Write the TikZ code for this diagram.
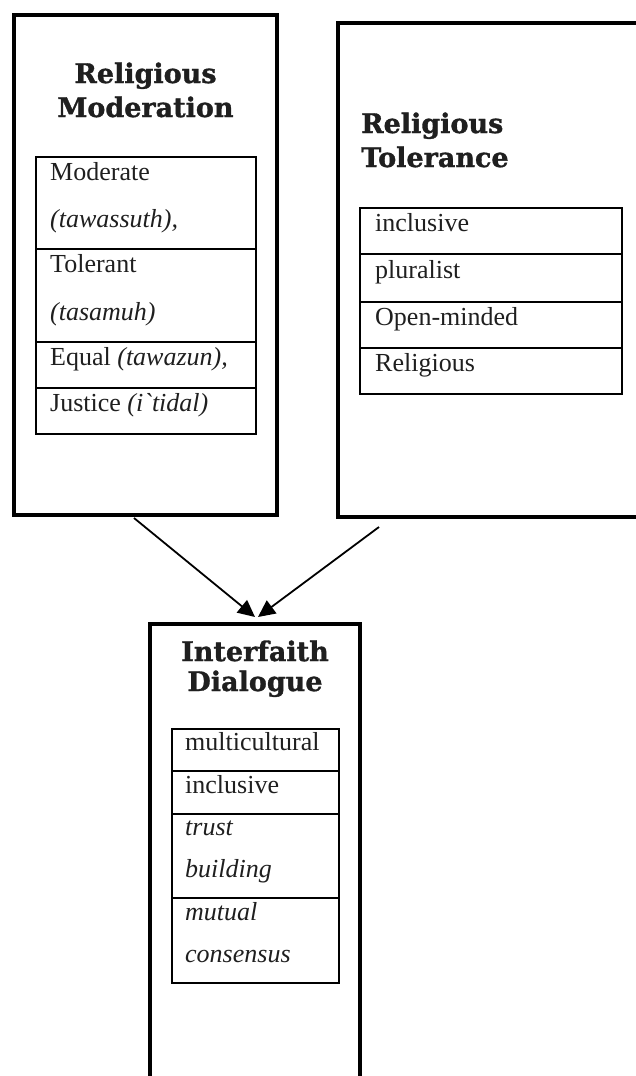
\documentclass[tikz,border=0pt]{standalone}
\usepackage{fontspec}
\setmainfont{Liberation Serif}
\newfontfamily\headfont{DejaVu Serif}[BoldFeatures={FakeBold=1.2}]
\newfontface\gravefont{Liberation Serif Italic}
\usetikzlibrary{arrows.meta}
\begin{document}
\begin{tikzpicture}[x=1pt,y=-1pt,
  outerbox/.style={draw=black, line width=4.5pt, minimum width=#1, inner sep=0pt},
  cell/.style={draw=black, line width=1.6pt, inner sep=0pt, anchor=north west},
  body/.style={font=\fontsize{26}{30}\selectfont, anchor=base west, inner sep=0pt, text=black!88},
  head/.style={font=\headfont\bfseries\fontsize{27}{30}\selectfont, anchor=base, inner sep=0pt, text=black!88},
  headl/.style={head, anchor=base west},
  arr/.style={line width=1.8pt, -{Triangle[length=17pt,width=16pt]}}
]
\useasboundingbox (0,0) rectangle (635,1076);
% outer boxes
\node[outerbox=263pt, minimum height=500pt] (rm) at (145.5,265) {};
\node[outerbox=312pt, minimum height=494pt] (rt) at (494,270) {};
\node[outerbox=210pt, minimum height=500pt] (id) at (255,874) {};

% Religious Moderation
\node[head] (rmh1) at (145.5,83) {Religious};
\node[head] (rmh2) at (145.5,117) {Moderation};
\node[cell, minimum width=220pt, minimum height=92pt] (rm1) at (35,156) {};
\node[cell, minimum width=220pt, minimum height=93pt] (rm2) at (35,248) {};
\node[cell, minimum width=220pt, minimum height=46pt] (rm3) at (35,341) {};
\node[cell, minimum width=220pt, minimum height=46pt] (rm4) at (35,387) {};
\node[body] (t11) at (50,180) {Moderate};
\node[body] (t12) at (50,227) {\itshape (tawassuth),};
\node[body] (t21) at (50,272) {Tolerant};
\node[body] (t22) at (50,320) {\itshape (tasamuh)};
\node[body] (t3) at (50,365) {Equal \textit{(tawazun),}};
\node[body] (t4) at (50,411) {Justice \textit{(i{\gravefont `}tidal)}};

% Religious Tolerance
\node[headl] (rth1) at (361,133) {Religious};
\node[headl] (rth2) at (361,167) {Tolerance};
\node[cell, minimum width=262pt, minimum height=46pt] (rt1) at (359,207) {};
\node[cell, minimum width=262pt, minimum height=48pt] (rt2) at (359,253) {};
\node[cell, minimum width=262pt, minimum height=46pt] (rt3) at (359,301) {};
\node[cell, minimum width=262pt, minimum height=46pt] (rt4) at (359,347) {};
\node[body] (u1) at (375,231) {inclusive};
\node[body] (u2) at (375,278) {pluralist};
\node[body] (u3) at (375,325) {Open-minded};
\node[body] (u4) at (375,371) {Religious};

% Interfaith Dialogue
\node[head] (idh1) at (255,661) {Interfaith};
\node[head] (idh2) at (255,691) {Dialogue};
\node[cell, minimum width=167pt, minimum height=42pt] (id1) at (171,728) {};
\node[cell, minimum width=167pt, minimum height=43pt] (id2) at (171,770) {};
\node[cell, minimum width=167pt, minimum height=84pt] (id3) at (171,813) {};
\node[cell, minimum width=167pt, minimum height=85pt] (id4) at (171,897) {};
\node[body] (v1) at (185,750) {multicultural};
\node[body] (v2) at (185,793) {inclusive};
\node[body] (v31) at (185,835) {\itshape trust};
\node[body] (v32) at (185,877) {\itshape building};
\node[body] (v41) at (185,920) {\itshape mutual};
\node[body] (v42) at (185,962) {\itshape consensus};

% arrows
\coordinate (s1) at (134,518);
\coordinate (s2) at (379,527);
\coordinate (e1) at (255,617);
\coordinate (e2) at (258,617);
\draw[arr] (s1) -- (e1);
\draw[arr] (s2) -- (e2);
\end{tikzpicture}
\end{document}
